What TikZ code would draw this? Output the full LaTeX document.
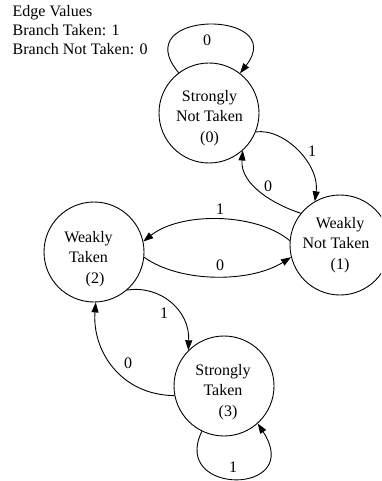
\documentclass[tikz,border=0pt]{standalone}
\usepackage{fontspec}
\setmainfont{Liberation Serif}
\usetikzlibrary{arrows.meta}
\begin{document}
\begin{tikzpicture}[x=1pt,y=-1pt,
  state/.style={draw, circle, minimum size=100pt, inner sep=0pt, line width=0.9pt},
  txt/.style={font=\fontsize{16}{20.5}\selectfont, align=center, inner sep=0pt},
  lab/.style={font=\fontsize{16}{19}\selectfont, inner sep=0pt},
  legend/.style={font=\fontsize{16}{19}\selectfont, inner sep=0pt, anchor=base west},
  edgeline/.style={draw, line width=0.9pt, -{Triangle[length=10pt,width=7pt]}},
]
\useasboundingbox (0,0) rectangle (381,481);
\clip (0,0) rectangle (381,481);
\fill[white] (0,0) rectangle (381,481);

% legend
\node[legend] (leg1) at (12.5,17) {Edge Values};
\node[legend] (leg2) at (12.5,36) {Branch Taken: 1};
\node[legend] (leg3) at (12.5,55) {Branch Not Taken: 0};

% states
\node[state] (s0) at (209,113) {};
\node[state] (s1) at (340,245) {};
\node[state] (s2) at (94,252) {};
\node[state] (s3) at (224,386) {};

\node[txt] (t0) at (209.5,118) {Strongly\\Not Taken\\(0)};
\node[txt] (t1) at (336,245) {\hspace*{8pt}Weakly\\Not Taken\\\hspace*{8pt}(1)};
\node[txt] (t2) at (88.5,259) {Weakly\\Taken\\\hspace*{13pt}(2)};
\node[txt] (t3) at (223,392) {Strongly\\Taken\\\hspace*{10pt}(3)};

% self loop on state 0
\draw[edgeline] (s0.127) .. controls (125,9) and (290,9) .. (s0.52);
\node[lab] (l00) at (207,40) {0};

% 0 -> 1
\draw[edgeline] (s0.-22) .. controls (285,128) and (320,165) .. (s1.120);
\node[lab] (l01) at (312,151) {1};

% 1 -> 0
\draw[edgeline] (s1.141) .. controls (275,205) and (240,185) .. (s0.-48);
\node[lab] (l10) at (268,186) {0};

% 1 -> 2
\draw[edgeline] (s1.175) .. controls (255,212) and (180,212) .. (s2.12);
\node[lab] (l12) at (220,209) {1};

% 2 -> 1
\draw[edgeline] (s2.-6) .. controls (180,283) and (250,283) .. (s1.-166);
\node[lab] (l21) at (220,265) {0};

% 2 -> 3
\draw[edgeline] (s2.-49) .. controls (160,285) and (190,310) .. (s3.135);
\node[lab] (l23) at (164,313) {1};

% 3 -> 2
\draw[edgeline] (s3.-169) .. controls (120,395) and (92,350) .. (s2.-88);
\node[lab] (l32) at (128,363) {0};

% self loop on state 3
\draw[edgeline] (s3.-116) .. controls (170,496) and (305,496) .. (s3.-48);
\node[lab] (l33) at (233,467) {1};
\end{tikzpicture}
\end{document}
